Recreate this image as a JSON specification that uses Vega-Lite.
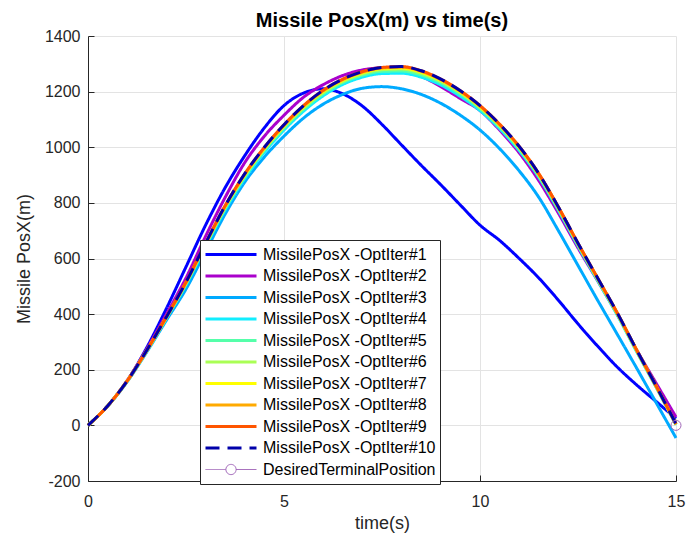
{
  "$schema": "https://vega.github.io/schema/vega-lite/v6.json",
  "width": 588,
  "height": 445,
  "autosize": {"type": "none"},
  "padding": {"left": 88, "top": 36, "right": 10, "bottom": 58},
  "background": "white",
  "config": {"view": {"stroke": null}, "font": "Liberation Sans"},
  "title": {"text": "Missile PosX(m) vs time(s)", "fontSize": 20, "fontWeight": "bold", "font": "Liberation Sans", "color": "#000000", "frame": "group", "anchor": "middle", "baseline": "alphabetic", "offset": 9, "dy": 28},
  "layer": [
    {
      "data": {"values": [
        {"t": 0, "MissilePosX -OptIter#1": 0, "MissilePosX -OptIter#2": 0, "MissilePosX -OptIter#3": 0, "MissilePosX -OptIter#4": 0, "MissilePosX -OptIter#5": 0, "MissilePosX -OptIter#6": 0, "MissilePosX -OptIter#7": 0, "MissilePosX -OptIter#8": 0, "MissilePosX -OptIter#9": 0, "MissilePosX -OptIter#10": 0},
        {"t": 0.5, "MissilePosX -OptIter#1": 70, "MissilePosX -OptIter#2": 70, "MissilePosX -OptIter#3": 69, "MissilePosX -OptIter#4": 70, "MissilePosX -OptIter#5": 70, "MissilePosX -OptIter#6": 70, "MissilePosX -OptIter#7": 70, "MissilePosX -OptIter#8": 70, "MissilePosX -OptIter#9": 70, "MissilePosX -OptIter#10": 70},
        {"t": 1, "MissilePosX -OptIter#1": 160, "MissilePosX -OptIter#2": 162, "MissilePosX -OptIter#3": 157, "MissilePosX -OptIter#4": 159, "MissilePosX -OptIter#5": 159, "MissilePosX -OptIter#6": 160, "MissilePosX -OptIter#7": 160, "MissilePosX -OptIter#8": 160, "MissilePosX -OptIter#9": 160, "MissilePosX -OptIter#10": 160},
        {"t": 1.5, "MissilePosX -OptIter#1": 280, "MissilePosX -OptIter#2": 275, "MissilePosX -OptIter#3": 264, "MissilePosX -OptIter#4": 267, "MissilePosX -OptIter#5": 268, "MissilePosX -OptIter#6": 269, "MissilePosX -OptIter#7": 269, "MissilePosX -OptIter#8": 270, "MissilePosX -OptIter#9": 270, "MissilePosX -OptIter#10": 270},
        {"t": 2, "MissilePosX -OptIter#1": 420, "MissilePosX -OptIter#2": 400, "MissilePosX -OptIter#3": 378, "MissilePosX -OptIter#4": 385, "MissilePosX -OptIter#5": 387, "MissilePosX -OptIter#6": 388, "MissilePosX -OptIter#7": 389, "MissilePosX -OptIter#8": 390, "MissilePosX -OptIter#9": 390, "MissilePosX -OptIter#10": 390},
        {"t": 2.5, "MissilePosX -OptIter#1": 570, "MissilePosX -OptIter#2": 530, "MissilePosX -OptIter#3": 490, "MissilePosX -OptIter#4": 505, "MissilePosX -OptIter#5": 509, "MissilePosX -OptIter#6": 511, "MissilePosX -OptIter#7": 513, "MissilePosX -OptIter#8": 514, "MissilePosX -OptIter#9": 515, "MissilePosX -OptIter#10": 515},
        {"t": 3, "MissilePosX -OptIter#1": 720, "MissilePosX -OptIter#2": 680, "MissilePosX -OptIter#3": 625, "MissilePosX -OptIter#4": 643, "MissilePosX -OptIter#5": 647, "MissilePosX -OptIter#6": 650, "MissilePosX -OptIter#7": 652, "MissilePosX -OptIter#8": 654, "MissilePosX -OptIter#9": 655, "MissilePosX -OptIter#10": 655},
        {"t": 3.5, "MissilePosX -OptIter#1": 855, "MissilePosX -OptIter#2": 820, "MissilePosX -OptIter#3": 760, "MissilePosX -OptIter#4": 775, "MissilePosX -OptIter#5": 781, "MissilePosX -OptIter#6": 784, "MissilePosX -OptIter#7": 787, "MissilePosX -OptIter#8": 789, "MissilePosX -OptIter#9": 790, "MissilePosX -OptIter#10": 790},
        {"t": 4, "MissilePosX -OptIter#1": 970, "MissilePosX -OptIter#2": 945, "MissilePosX -OptIter#3": 875, "MissilePosX -OptIter#4": 888, "MissilePosX -OptIter#5": 894, "MissilePosX -OptIter#6": 898, "MissilePosX -OptIter#7": 901, "MissilePosX -OptIter#8": 903, "MissilePosX -OptIter#9": 905, "MissilePosX -OptIter#10": 905},
        {"t": 4.5, "MissilePosX -OptIter#1": 1070, "MissilePosX -OptIter#2": 1040, "MissilePosX -OptIter#3": 965, "MissilePosX -OptIter#4": 982, "MissilePosX -OptIter#5": 989, "MissilePosX -OptIter#6": 993, "MissilePosX -OptIter#7": 996, "MissilePosX -OptIter#8": 998, "MissilePosX -OptIter#9": 1000, "MissilePosX -OptIter#10": 1000},
        {"t": 5, "MissilePosX -OptIter#1": 1150, "MissilePosX -OptIter#2": 1115, "MissilePosX -OptIter#3": 1040, "MissilePosX -OptIter#4": 1062, "MissilePosX -OptIter#5": 1069, "MissilePosX -OptIter#6": 1074, "MissilePosX -OptIter#7": 1077, "MissilePosX -OptIter#8": 1079, "MissilePosX -OptIter#9": 1081, "MissilePosX -OptIter#10": 1081},
        {"t": 5.5, "MissilePosX -OptIter#1": 1195, "MissilePosX -OptIter#2": 1180, "MissilePosX -OptIter#3": 1105, "MissilePosX -OptIter#4": 1130, "MissilePosX -OptIter#5": 1137, "MissilePosX -OptIter#6": 1142, "MissilePosX -OptIter#7": 1146, "MissilePosX -OptIter#8": 1148, "MissilePosX -OptIter#9": 1150, "MissilePosX -OptIter#10": 1150},
        {"t": 6, "MissilePosX -OptIter#1": 1210, "MissilePosX -OptIter#2": 1225, "MissilePosX -OptIter#3": 1155, "MissilePosX -OptIter#4": 1185, "MissilePosX -OptIter#5": 1192, "MissilePosX -OptIter#6": 1197, "MissilePosX -OptIter#7": 1201, "MissilePosX -OptIter#8": 1203, "MissilePosX -OptIter#9": 1205, "MissilePosX -OptIter#10": 1205},
        {"t": 6.5, "MissilePosX -OptIter#1": 1192, "MissilePosX -OptIter#2": 1258, "MissilePosX -OptIter#3": 1190, "MissilePosX -OptIter#4": 1226, "MissilePosX -OptIter#5": 1233, "MissilePosX -OptIter#6": 1237, "MissilePosX -OptIter#7": 1241, "MissilePosX -OptIter#8": 1243, "MissilePosX -OptIter#9": 1245, "MissilePosX -OptIter#10": 1245},
        {"t": 7, "MissilePosX -OptIter#1": 1148, "MissilePosX -OptIter#2": 1278, "MissilePosX -OptIter#3": 1212, "MissilePosX -OptIter#4": 1252, "MissilePosX -OptIter#5": 1259, "MissilePosX -OptIter#6": 1264, "MissilePosX -OptIter#7": 1268, "MissilePosX -OptIter#8": 1270, "MissilePosX -OptIter#9": 1272, "MissilePosX -OptIter#10": 1272},
        {"t": 7.5, "MissilePosX -OptIter#1": 1082, "MissilePosX -OptIter#2": 1285, "MissilePosX -OptIter#3": 1218, "MissilePosX -OptIter#4": 1265, "MissilePosX -OptIter#5": 1273, "MissilePosX -OptIter#6": 1279, "MissilePosX -OptIter#7": 1283, "MissilePosX -OptIter#8": 1285, "MissilePosX -OptIter#9": 1287, "MissilePosX -OptIter#10": 1287},
        {"t": 8, "MissilePosX -OptIter#1": 1008, "MissilePosX -OptIter#2": 1278, "MissilePosX -OptIter#3": 1210, "MissilePosX -OptIter#4": 1266, "MissilePosX -OptIter#5": 1274, "MissilePosX -OptIter#6": 1281, "MissilePosX -OptIter#7": 1285, "MissilePosX -OptIter#8": 1288, "MissilePosX -OptIter#9": 1290, "MissilePosX -OptIter#10": 1290},
        {"t": 8.5, "MissilePosX -OptIter#1": 935, "MissilePosX -OptIter#2": 1255, "MissilePosX -OptIter#3": 1190, "MissilePosX -OptIter#4": 1252, "MissilePosX -OptIter#5": 1260, "MissilePosX -OptIter#6": 1266, "MissilePosX -OptIter#7": 1270, "MissilePosX -OptIter#8": 1273, "MissilePosX -OptIter#9": 1275, "MissilePosX -OptIter#10": 1275},
        {"t": 9, "MissilePosX -OptIter#1": 865, "MissilePosX -OptIter#2": 1218, "MissilePosX -OptIter#3": 1158, "MissilePosX -OptIter#4": 1224, "MissilePosX -OptIter#5": 1232, "MissilePosX -OptIter#6": 1237, "MissilePosX -OptIter#7": 1241, "MissilePosX -OptIter#8": 1243, "MissilePosX -OptIter#9": 1245, "MissilePosX -OptIter#10": 1245},
        {"t": 9.5, "MissilePosX -OptIter#1": 792, "MissilePosX -OptIter#2": 1175, "MissilePosX -OptIter#3": 1115, "MissilePosX -OptIter#4": 1183, "MissilePosX -OptIter#5": 1191, "MissilePosX -OptIter#6": 1196, "MissilePosX -OptIter#7": 1199, "MissilePosX -OptIter#8": 1201, "MissilePosX -OptIter#9": 1203, "MissilePosX -OptIter#10": 1203},
        {"t": 10, "MissilePosX -OptIter#1": 720, "MissilePosX -OptIter#2": 1132, "MissilePosX -OptIter#3": 1062, "MissilePosX -OptIter#4": 1132, "MissilePosX -OptIter#5": 1139, "MissilePosX -OptIter#6": 1143, "MissilePosX -OptIter#7": 1146, "MissilePosX -OptIter#8": 1148, "MissilePosX -OptIter#9": 1150, "MissilePosX -OptIter#10": 1150},
        {"t": 10.5, "MissilePosX -OptIter#1": 665, "MissilePosX -OptIter#2": 1062, "MissilePosX -OptIter#3": 995, "MissilePosX -OptIter#4": 1067, "MissilePosX -OptIter#5": 1073, "MissilePosX -OptIter#6": 1077, "MissilePosX -OptIter#7": 1080, "MissilePosX -OptIter#8": 1082, "MissilePosX -OptIter#9": 1083, "MissilePosX -OptIter#10": 1083},
        {"t": 11, "MissilePosX -OptIter#1": 600, "MissilePosX -OptIter#2": 980, "MissilePosX -OptIter#3": 915, "MissilePosX -OptIter#4": 988, "MissilePosX -OptIter#5": 994, "MissilePosX -OptIter#6": 998, "MissilePosX -OptIter#7": 1000, "MissilePosX -OptIter#8": 1002, "MissilePosX -OptIter#9": 1003, "MissilePosX -OptIter#10": 1003},
        {"t": 11.5, "MissilePosX -OptIter#1": 530, "MissilePosX -OptIter#2": 880, "MissilePosX -OptIter#3": 820, "MissilePosX -OptIter#4": 892, "MissilePosX -OptIter#5": 897, "MissilePosX -OptIter#6": 900, "MissilePosX -OptIter#7": 902, "MissilePosX -OptIter#8": 904, "MissilePosX -OptIter#9": 905, "MissilePosX -OptIter#10": 905},
        {"t": 12, "MissilePosX -OptIter#1": 450, "MissilePosX -OptIter#2": 763, "MissilePosX -OptIter#3": 700, "MissilePosX -OptIter#4": 773, "MissilePosX -OptIter#5": 778, "MissilePosX -OptIter#6": 781, "MissilePosX -OptIter#7": 783, "MissilePosX -OptIter#8": 784, "MissilePosX -OptIter#9": 785, "MissilePosX -OptIter#10": 785},
        {"t": 12.5, "MissilePosX -OptIter#1": 365, "MissilePosX -OptIter#2": 638, "MissilePosX -OptIter#3": 575, "MissilePosX -OptIter#4": 645, "MissilePosX -OptIter#5": 649, "MissilePosX -OptIter#6": 652, "MissilePosX -OptIter#7": 653, "MissilePosX -OptIter#8": 654, "MissilePosX -OptIter#9": 655, "MissilePosX -OptIter#10": 655},
        {"t": 13, "MissilePosX -OptIter#1": 285, "MissilePosX -OptIter#2": 520, "MissilePosX -OptIter#3": 450, "MissilePosX -OptIter#4": 521, "MissilePosX -OptIter#5": 524, "MissilePosX -OptIter#6": 527, "MissilePosX -OptIter#7": 528, "MissilePosX -OptIter#8": 529, "MissilePosX -OptIter#9": 530, "MissilePosX -OptIter#10": 530},
        {"t": 13.5, "MissilePosX -OptIter#1": 210, "MissilePosX -OptIter#2": 400, "MissilePosX -OptIter#3": 328, "MissilePosX -OptIter#4": 397, "MissilePosX -OptIter#5": 400, "MissilePosX -OptIter#6": 402, "MissilePosX -OptIter#7": 403, "MissilePosX -OptIter#8": 404, "MissilePosX -OptIter#9": 405, "MissilePosX -OptIter#10": 405},
        {"t": 14, "MissilePosX -OptIter#1": 145, "MissilePosX -OptIter#2": 270, "MissilePosX -OptIter#3": 205, "MissilePosX -OptIter#4": 264, "MissilePosX -OptIter#5": 266, "MissilePosX -OptIter#6": 268, "MissilePosX -OptIter#7": 269, "MissilePosX -OptIter#8": 270, "MissilePosX -OptIter#9": 270, "MissilePosX -OptIter#10": 270},
        {"t": 14.5, "MissilePosX -OptIter#1": 85, "MissilePosX -OptIter#2": 150, "MissilePosX -OptIter#3": 80, "MissilePosX -OptIter#4": 135, "MissilePosX -OptIter#5": 137, "MissilePosX -OptIter#6": 138, "MissilePosX -OptIter#7": 139, "MissilePosX -OptIter#8": 140, "MissilePosX -OptIter#9": 140, "MissilePosX -OptIter#10": 140},
        {"t": 15, "MissilePosX -OptIter#1": 25, "MissilePosX -OptIter#2": 30, "MissilePosX -OptIter#3": -45, "MissilePosX -OptIter#4": 2, "MissilePosX -OptIter#5": 3, "MissilePosX -OptIter#6": 4, "MissilePosX -OptIter#7": 4, "MissilePosX -OptIter#8": 5, "MissilePosX -OptIter#9": 5, "MissilePosX -OptIter#10": 5}
      ]},
      "transform": [{"fold": ["MissilePosX -OptIter#1", "MissilePosX -OptIter#2", "MissilePosX -OptIter#3", "MissilePosX -OptIter#4", "MissilePosX -OptIter#5", "MissilePosX -OptIter#6", "MissilePosX -OptIter#7", "MissilePosX -OptIter#8", "MissilePosX -OptIter#9", "MissilePosX -OptIter#10"], "as": ["series", "v"]}],
      "mark": {"type": "line", "strokeWidth": 3, "interpolate": "monotone"},
      "encoding": {
        "x": {"field": "t", "type": "quantitative", "scale": {"domain": [0, 15], "nice": false},
          "axis": {"values": [0, 5, 10, 15], "title": "time(s)", "titleFontSize": 18, "titleFontWeight": "normal", "titleColor": "#262626", "titleY": 47, "titleBaseline": "alphabetic",
            "labelFontSize": 16, "labelColor": "#262626", "labelBaseline": "alphabetic", "labelPadding": 31, "labelFlush": false, "labelOverlap": false, "labelExpr": "'' + datum.value",
            "tickSize": -6, "tickColor": "#262626", "domainColor": "#262626", "gridColor": "#E3E3E3"}},
        "y": {"field": "v", "type": "quantitative", "scale": {"domain": [-200, 1400], "nice": false},
          "axis": {"values": [-200, 0, 200, 400, 600, 800, 1000, 1200, 1400], "title": "Missile PosX(m)", "titleFontSize": 18, "titleFontWeight": "normal", "titleColor": "#262626", "titleX": -59, "titleY": 222.5, "titleAngle": 270, "titleBaseline": "alphabetic", "titleAlign": "center",
            "labelFontSize": 16, "labelColor": "#262626", "labelPadding": 14, "labelFlush": false, "labelOverlap": false, "labelExpr": "'' + datum.value",
            "tickSize": -6, "tickColor": "#262626", "domainColor": "#262626", "gridColor": "#E3E3E3"}},
        "color": {"field": "series", "type": "nominal",
          "scale": {"domain": ["MissilePosX -OptIter#1", "MissilePosX -OptIter#2", "MissilePosX -OptIter#3", "MissilePosX -OptIter#4", "MissilePosX -OptIter#5", "MissilePosX -OptIter#6", "MissilePosX -OptIter#7", "MissilePosX -OptIter#8", "MissilePosX -OptIter#9", "MissilePosX -OptIter#10", "DesiredTerminalPosition"],
            "range": ["#0000FF", "#AA00CC", "#00AAFF", "#11EEFF", "#55FFAA", "#AAFF55", "#FFFF00", "#FFAA00", "#FF5500", "#0000AA", "#A066B8"]},
          "legend": {"title": null, "orient": "none", "legendX": 112, "legendY": 204, "direction": "vertical", "padding": 4, "fillColor": "white", "strokeColor": "#262626", "cornerRadius": 0,
            "symbolType": "stroke", "symbolSize": 2601, "symbolStrokeWidth": 3, "symbolOffset": 19, "labelOffset": 24, "labelFontSize": 16, "labelFont": "Liberation Sans", "labelColor": "#000000", "labelLimit": 400, "clipHeight": 21, "rowPadding": 0.5,
            "encode": {"symbols": {"update": {
              "shape": {"signal": "datum.value === 'DesiredTerminalPosition' ? 'M-1,0H-0.2M0.2,0H1M0.2,0A0.2,0.2,0,1,1,-0.2,0A0.2,0.2,0,1,1,0.2,0' : 'stroke'"},
              "strokeWidth": {"signal": "datum.value === 'DesiredTerminalPosition' ? 1 : 3"},
              "fill": {"value": "white"}}}}}},
        "strokeDash": {"field": "series", "type": "nominal",
          "scale": {"domain": ["MissilePosX -OptIter#1", "MissilePosX -OptIter#2", "MissilePosX -OptIter#3", "MissilePosX -OptIter#4", "MissilePosX -OptIter#5", "MissilePosX -OptIter#6", "MissilePosX -OptIter#7", "MissilePosX -OptIter#8", "MissilePosX -OptIter#9", "MissilePosX -OptIter#10", "DesiredTerminalPosition"],
            "range": [[1, 0], [1, 0], [1, 0], [1, 0], [1, 0], [1, 0], [1, 0], [1, 0], [1, 0], [14, 8], [1, 0]]}}
      }
    },
    {
      "data": {"values": [{"series": "DesiredTerminalPosition", "t": 15, "v": 0}]},
      "mark": {"type": "point", "filled": false, "size": 100, "strokeWidth": 1, "opacity": 1},
      "encoding": {
        "x": {"field": "t", "type": "quantitative"},
        "y": {"field": "v", "type": "quantitative"},
        "color": {"field": "series", "type": "nominal"}
      }
    }
  ]
}
